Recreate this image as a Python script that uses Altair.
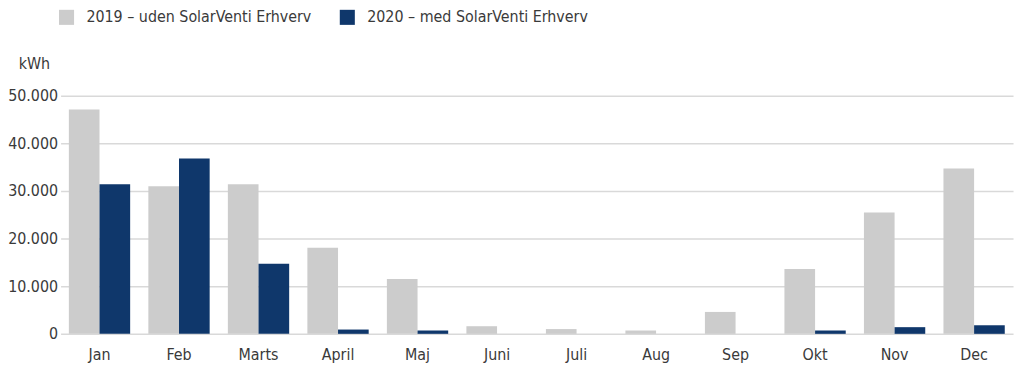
import altair as alt
import pandas as pd

months = ["Jan", "Feb", "Marts", "April", "Maj", "Juni", "Juli", "Aug", "Sep", "Okt", "Nov", "Dec"]
series = ["2019 – uden SolarVenti Erhverv", "2020 – med SolarVenti Erhverv"]
v2019 = [47100, 31000, 31400, 18100, 11500, 1600, 1000, 700, 4600, 13600, 25500, 34700]
v2020 = [31400, 36800, 14700, 900, 700, 0, 0, 0, 0, 700, 1400, 1800]
colors = ["#cccccc", "#0f376b"]

rows = []
for m, a, b in zip(months, v2019, v2020):
    rows.append({"month": m, "series": series[0], "value": a})
    rows.append({"month": m, "series": series[1], "value": b})
df = pd.DataFrame(rows)

FONT = "Liberation Sans Narrow, DejaVu Sans Condensed, Roboto, sans-serif"
TXT = "#3a3a3a"
FS = 16

chart = alt.Chart(df).mark_bar().encode(
    x=alt.X("month:N", sort=months, title=None,
            scale=alt.Scale(paddingInner=0.229, paddingOuter=0.104),
            axis=alt.Axis(labelAngle=0, ticks=False, domain=False, grid=False,
                          labelPadding=13, labelFontSize=FS, labelFont=FONT, labelColor=TXT)),
    xOffset=alt.XOffset("series:N", sort=series),
    y=alt.Y("value:Q", scale=alt.Scale(domain=[0, 50000]),
            axis=alt.Axis(values=[0, 10000, 20000, 30000, 40000, 50000],
                          labelExpr="replace(format(datum.value, ','), ',', '.')",
                          ticks=False, domain=False, grid=True, gridColor="#d9d9d9", gridWidth=1.5,
                          labelPadding=3, labelFontSize=FS, labelFont=FONT, labelColor=TXT,
                          title="kWh", titleAngle=0, titleAlign="right", titleBaseline="middle",
                          titleX=-11, titleY=-32, titleFont=FONT, titleFontSize=FS,
                          titleFontWeight="normal", titleColor=TXT)),
    color=alt.Color("series:N", sort=series,
                    scale=alt.Scale(domain=series, range=colors),
                    legend=alt.Legend(title=None, orient="none", direction="horizontal",
                                      legendX=-2, legendY=-87, symbolType="square",
                                      symbolSize=230, symbolStrokeWidth=0,
                                      labelFont=FONT, labelFontSize=FS, labelColor=TXT,
                                      labelLimit=0, labelOffset=12, columnPadding=28)),
).properties(
    width=960, height=240,
    autosize=alt.AutoSizeParams(type="none"),
    padding={"left": 53, "top": 87, "right": 3, "bottom": 31},
).configure_view(stroke=None)

chart.save("out.html", embed_options={"renderer": "svg", "actions": False})
